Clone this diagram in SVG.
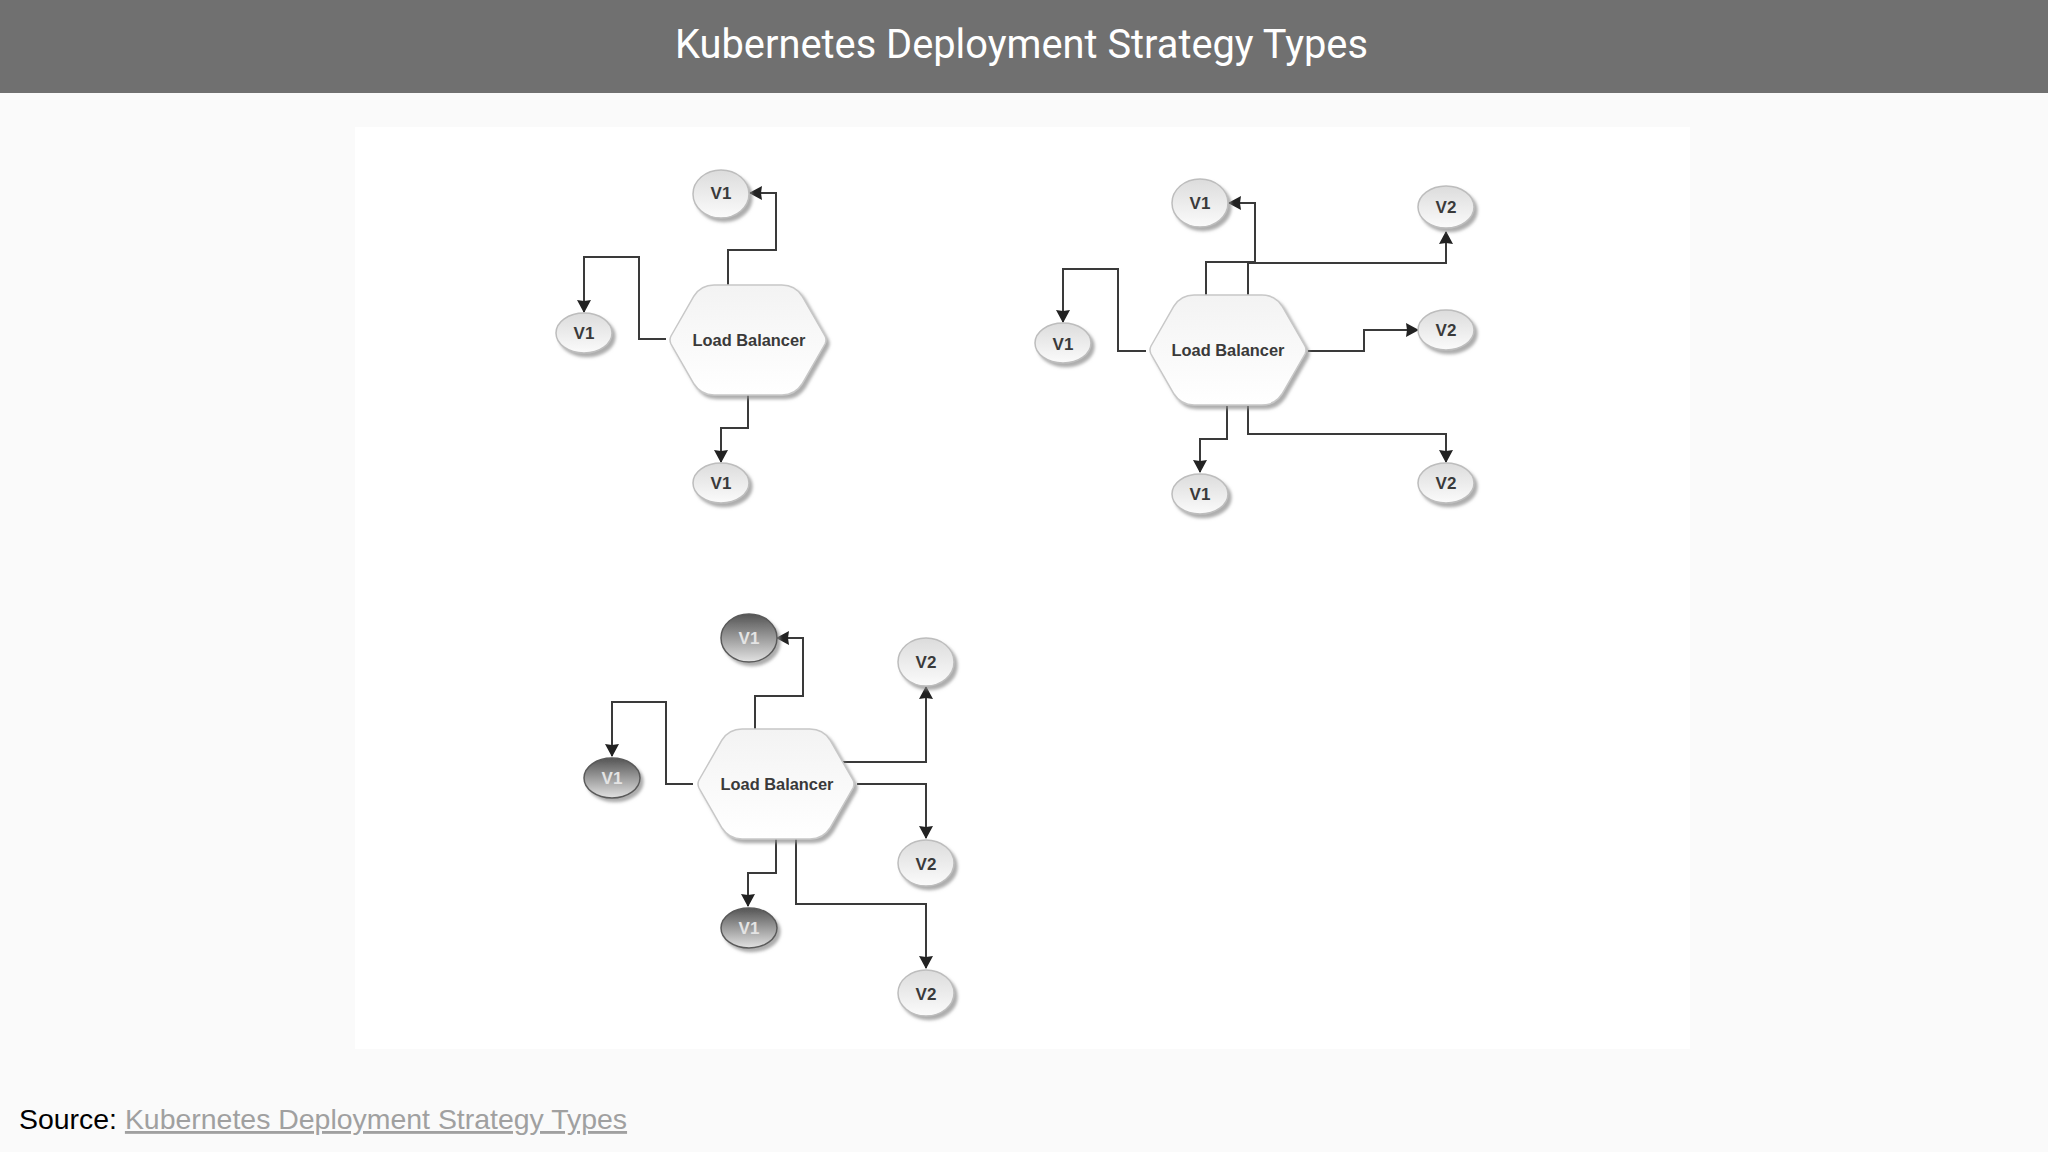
<svg xmlns="http://www.w3.org/2000/svg" width="2048" height="1152" viewBox="0 0 2048 1152">
<style>
.title{font-family:Roboto,"Liberation Sans",sans-serif;font-size:39.8px;fill:#fff;text-anchor:middle}
.src{font-family:"Liberation Sans",Arial,sans-serif;font-size:28.45px}
.lb{font-family:"Liberation Sans",Arial,sans-serif;font-size:16.4px;font-weight:700;fill:#3a3a3a;text-anchor:middle}
.v{font-family:"Liberation Sans",Arial,sans-serif;font-size:17px;font-weight:700;fill:#3a3a3a;text-anchor:middle}
.vd{fill:#e4e4e4}
.e{fill:url(#gl);stroke:#bdbdbd;stroke-width:1.5;filter:url(#sh)}
.d{fill:url(#gd);stroke:#5a5a5a;stroke-width:1.5;filter:url(#sh)}
.h{fill:url(#gh);stroke:#c8c8c8;stroke-width:1.5;filter:url(#sh)}
#connectors path{fill:none;stroke:#3a3a3a;stroke-width:2;marker-end:url(#ar)}
</style>
<defs>
<linearGradient id="gl" x1="0" y1="0" x2="0" y2="1"><stop offset="0" stop-color="#dcdcdc"/><stop offset="1" stop-color="#fbfbfb"/></linearGradient>
<linearGradient id="gd" x1="0" y1="0" x2="0" y2="1"><stop offset="0" stop-color="#555"/><stop offset="1" stop-color="#e2e2e2"/></linearGradient>
<linearGradient id="gh" x1="0" y1="0" x2="0" y2="1"><stop offset="0" stop-color="#f3f3f3"/><stop offset="1" stop-color="#fff"/></linearGradient>
<filter id="sh" x="-20%" y="-20%" width="150%" height="150%"><feDropShadow dx="3" dy="3.5" stdDeviation="1.8" flood-color="#8a8a8a" flood-opacity=".7"/></filter>
<marker id="ar" markerWidth="16" markerHeight="16" refX="12" refY="7.5" orient="auto" markerUnits="userSpaceOnUse"><path d="M0 0.5L13 7.5L0 14.5L1 7.5Z" fill="#222"/></marker>
<path id="hex" d="M-77 -4L-54 -44Q-47 -55 -34 -55H34Q47 -55 54 -44L77 -4Q79 0 77 4L54 44Q47 55 34 55H-34Q-47 55 -54 44L-77 4Q-79 0 -77 -4Z"/>
</defs>
<rect width="2048" height="1152" fill="#fafafa"/>
<rect width="2048" height="93" fill="#707070"/>
<text class="title" x="1021.5" y="58">Kubernetes Deployment Strategy Types</text>
<rect x="355" y="127" width="1335" height="922" fill="#fff"/>
<g id="connectors">
<path d="M728 285V250H776V193H750"/>
<path d="M666 339H639V257H584V312"/>
<path d="M748 395V428H721V462"/>
<path d="M1206 295V262H1255V203H1229"/>
<path d="M1248 295V263H1446V232"/>
<path d="M1146 351H1118V269H1063V322"/>
<path d="M1308 351H1364V330H1418"/>
<path d="M1227 406V439H1200V472"/>
<path d="M1248 406V434H1446V462"/>
<path d="M755 729V696H803V638H777"/>
<path d="M693 784H666V702H612V756"/>
<path d="M842 762H926V687"/>
<path d="M857 784H926V838"/>
<path d="M776 839V873H748V906"/>
<path d="M796 839V904H926V968"/>
</g>
<g id="lb1"><use href="#hex" x="748" y="340" class="h"/><text class="lb" x="749" y="345.500">Load Balancer</text></g>
<g id="a-v1-top"><ellipse class="e" cx="721" cy="194" rx="28" ry="24"/><text class="v" x="721" y="199">V1</text></g>
<g id="a-v1-left"><ellipse class="e" cx="584" cy="333" rx="28" ry="20"/><text class="v" x="584" y="339">V1</text></g>
<g id="a-v1-bottom"><ellipse class="e" cx="721" cy="483" rx="28" ry="20"/><text class="v" x="721" y="489">V1</text></g>
<g id="lb2"><use href="#hex" x="1228" y="350" class="h"/><text class="lb" x="1228" y="356">Load Balancer</text></g>
<g id="b-v1-top"><ellipse class="e" cx="1200" cy="203" rx="28" ry="24"/><text class="v" x="1200" y="209">V1</text></g>
<g id="b-v1-left"><ellipse class="e" cx="1063" cy="343" rx="28" ry="20"/><text class="v" x="1063" y="350">V1</text></g>
<g id="b-v1-bottom"><ellipse class="e" cx="1200" cy="494" rx="28" ry="20"/><text class="v" x="1200" y="500">V1</text></g>
<g id="b-v2-top"><ellipse class="e" cx="1446" cy="207" rx="28" ry="21"/><text class="v" x="1446" y="213">V2</text></g>
<g id="b-v2-mid"><ellipse class="e" cx="1446" cy="330" rx="28" ry="20"/><text class="v" x="1446" y="336">V2</text></g>
<g id="b-v2-bottom"><ellipse class="e" cx="1446" cy="483" rx="28" ry="20"/><text class="v" x="1446" y="489">V2</text></g>
<g id="lb3"><use href="#hex" x="776" y="784" class="h"/><text class="lb" x="777" y="790">Load Balancer</text></g>
<g id="c-v1-top"><ellipse class="d" cx="749" cy="638" rx="28" ry="24"/><text class="v vd" x="749" y="644">V1</text></g>
<g id="c-v1-left"><ellipse class="d" cx="612" cy="778" rx="28" ry="20"/><text class="v vd" x="612" y="784">V1</text></g>
<g id="c-v1-bottom"><ellipse class="d" cx="749" cy="928" rx="28" ry="20"/><text class="v vd" x="749" y="934">V1</text></g>
<g id="c-v2-top"><ellipse class="e" cx="926" cy="662" rx="28" ry="24"/><text class="v" x="926" y="668">V2</text></g>
<g id="c-v2-mid"><ellipse class="e" cx="926" cy="863" rx="28" ry="23"/><text class="v" x="926" y="870">V2</text></g>
<g id="c-v2-bottom"><ellipse class="e" cx="926" cy="993" rx="28" ry="23"/><text class="v" x="926" y="1000">V2</text></g>
<text class="src" x="19" y="1129" fill="#000">Source: <tspan fill="#a0a0a0" text-decoration="underline">Kubernetes Deployment Strategy Types</tspan></text>
</svg>
